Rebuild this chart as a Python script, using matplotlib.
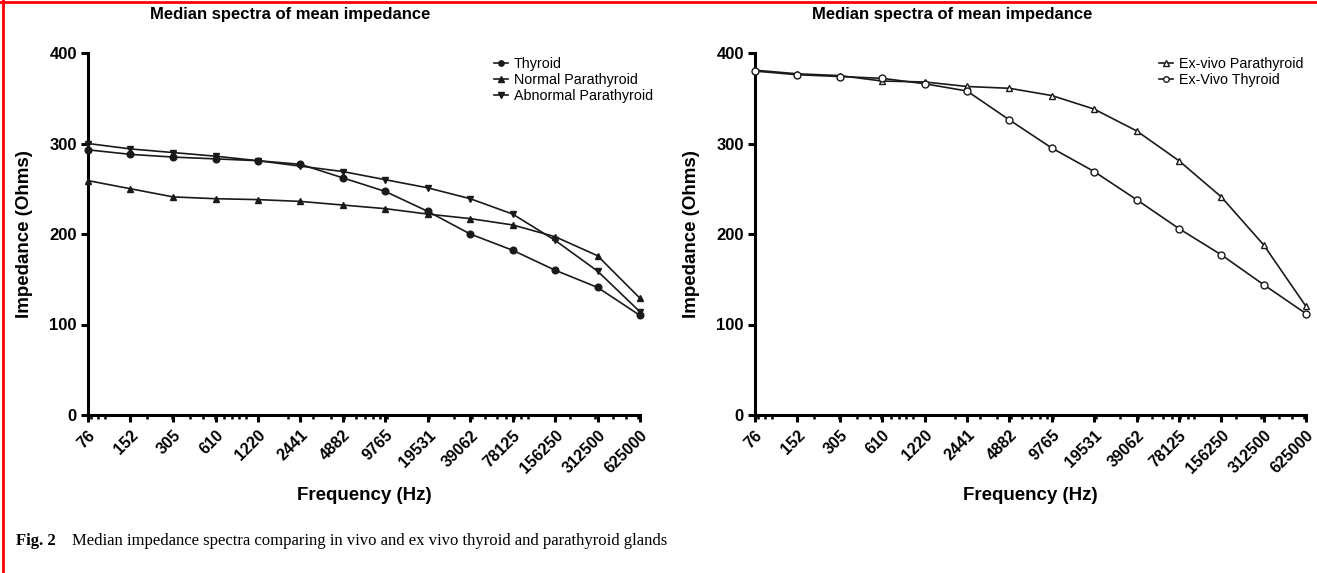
import matplotlib
matplotlib.use("Agg")
import matplotlib.pyplot as plt
from matplotlib.ticker import FixedLocator, LogLocator, NullFormatter
from matplotlib.lines import Line2D

plt.rcParams['font.family'] = ['Liberation Sans', 'DejaVu Sans']

freqs = [76, 152, 305, 610, 1220, 2441, 4882, 9765, 19531, 39062, 78125, 156250, 312500, 625000]
freq_labels = [str(f) for f in freqs]

thyroid = [293, 288, 285, 283, 281, 277, 262, 247, 225, 200, 182, 160, 141, 110]
normal_para = [259, 250, 241, 239, 238, 236, 232, 228, 222, 217, 210, 197, 176, 129]
abnormal_para = [300, 294, 290, 286, 281, 275, 269, 260, 251, 239, 222, 193, 159, 114]

exvivo_para = [381, 377, 375, 369, 368, 363, 361, 353, 338, 314, 281, 241, 188, 120]
exvivo_thyroid = [380, 376, 374, 372, 366, 358, 326, 295, 269, 238, 206, 177, 144, 112]

yticks = [0, 100, 200, 300, 400]

fig = plt.figure(figsize=(13.17, 5.73), dpi=100)

W, H = 1317, 573
def axrect(x0, x1, y_top, y_bot):
    return [x0 / W, (H - y_bot) / H, (x1 - x0) / W, (y_bot - y_top) / H]

ax1 = fig.add_axes(axrect(88, 640, 53, 415))
ax2 = fig.add_axes(axrect(755, 1306, 53, 415))

def style(ax, title_x):
    ax.set_xscale('log')
    ax.set_xlim(freqs[0], freqs[-1])
    ax.set_ylim(0, 400)
    ax.xaxis.set_major_locator(FixedLocator(freqs))
    ax.set_xticklabels(freq_labels, rotation=45, ha='right', rotation_mode='anchor',
                       fontsize=11.5, fontweight='bold')
    ax.xaxis.set_minor_locator(LogLocator(base=10, subs=range(1, 10), numticks=30))
    ax.xaxis.set_minor_formatter(NullFormatter())
    ax.set_yticks(yticks)
    ax.set_yticklabels([str(v) for v in yticks], fontsize=12, fontweight='bold')
    ax.spines['top'].set_visible(False)
    ax.spines['right'].set_visible(False)
    for s in ('left', 'bottom'):
        ax.spines[s].set_linewidth(2.2)
    ax.tick_params(axis='both', which='major', direction='out', length=5, width=2.2, pad=3)
    ax.tick_params(axis='x', which='minor', direction='out', length=3, width=1.8)
    ax.tick_params(axis='x', which='major', pad=4)
    ax.set_xlabel('Frequency (Hz)', fontsize=13.5, fontweight='bold', labelpad=8)
    ax.set_ylabel('Impedance (Ohms)', fontsize=13.5, fontweight='bold', labelpad=12)
    ax.text(title_x, 1 - 14 / H, 'Median spectra of mean impedance', transform=fig.transFigure,
            fontsize=12, fontweight='bold', ha='center', va='center')

style(ax1, 290 / W)
style(ax2, 952 / W)

lw = 1.2
ax1.plot(freqs, thyroid, color='#1a1a1a', lw=lw, marker='o', ms=4.8, label='Thyroid', clip_on=False, zorder=3)
ax1.plot(freqs, normal_para, color='#1a1a1a', lw=lw, marker='^', ms=4.8, label='Normal Parathyroid', clip_on=False, zorder=3)
ax1.plot(freqs, abnormal_para, color='#1a1a1a', lw=lw, marker='v', ms=4.8, label='Abnormal Parathyroid', clip_on=False, zorder=3)

ax2.plot(freqs, exvivo_para, color='#1a1a1a', lw=lw, marker='^', ms=5, mfc='white', mew=1.0,
         label='Ex-vivo Parathyroid', clip_on=False, zorder=3)
ax2.plot(freqs, exvivo_thyroid, color='#1a1a1a', lw=lw, marker='o', ms=5, mfc='white', mew=1.0,
         label='Ex-Vivo Thyroid', clip_on=False, zorder=3)

leg_kw = dict(frameon=False, fontsize=10.3, handlelength=1.0, handletextpad=0.4,
              labelspacing=0.15, borderaxespad=0.0, markerscale=0.8, loc='upper left')
ax1.legend(bbox_to_anchor=(488 / W, 1 - 51 / H), bbox_transform=fig.transFigure, **leg_kw)
ax2.legend(bbox_to_anchor=(1153 / W, 1 - 51 / H), bbox_transform=fig.transFigure, **leg_kw)

# caption
fig.text(16 / W, 1 - 541 / H, 'Fig. 2', fontsize=12, fontweight='bold',
         family=['Liberation Serif', 'DejaVu Serif'], va='center', ha='left')
fig.text(72 / W, 1 - 541 / H, 'Median impedance spectra comparing in vivo and ex vivo thyroid and parathyroid glands',
         fontsize=12, family=['Liberation Serif', 'DejaVu Serif'], va='center', ha='left')

# red frame lines (top and left)
fig.add_artist(Line2D([0, 1], [1 - 2 / H, 1 - 2 / H], transform=fig.transFigure, color='red', lw=2))
fig.add_artist(Line2D([3 / W, 3 / W], [0, 1], transform=fig.transFigure, color='red', lw=2))

fig.savefig('out.png', dpi=100)
